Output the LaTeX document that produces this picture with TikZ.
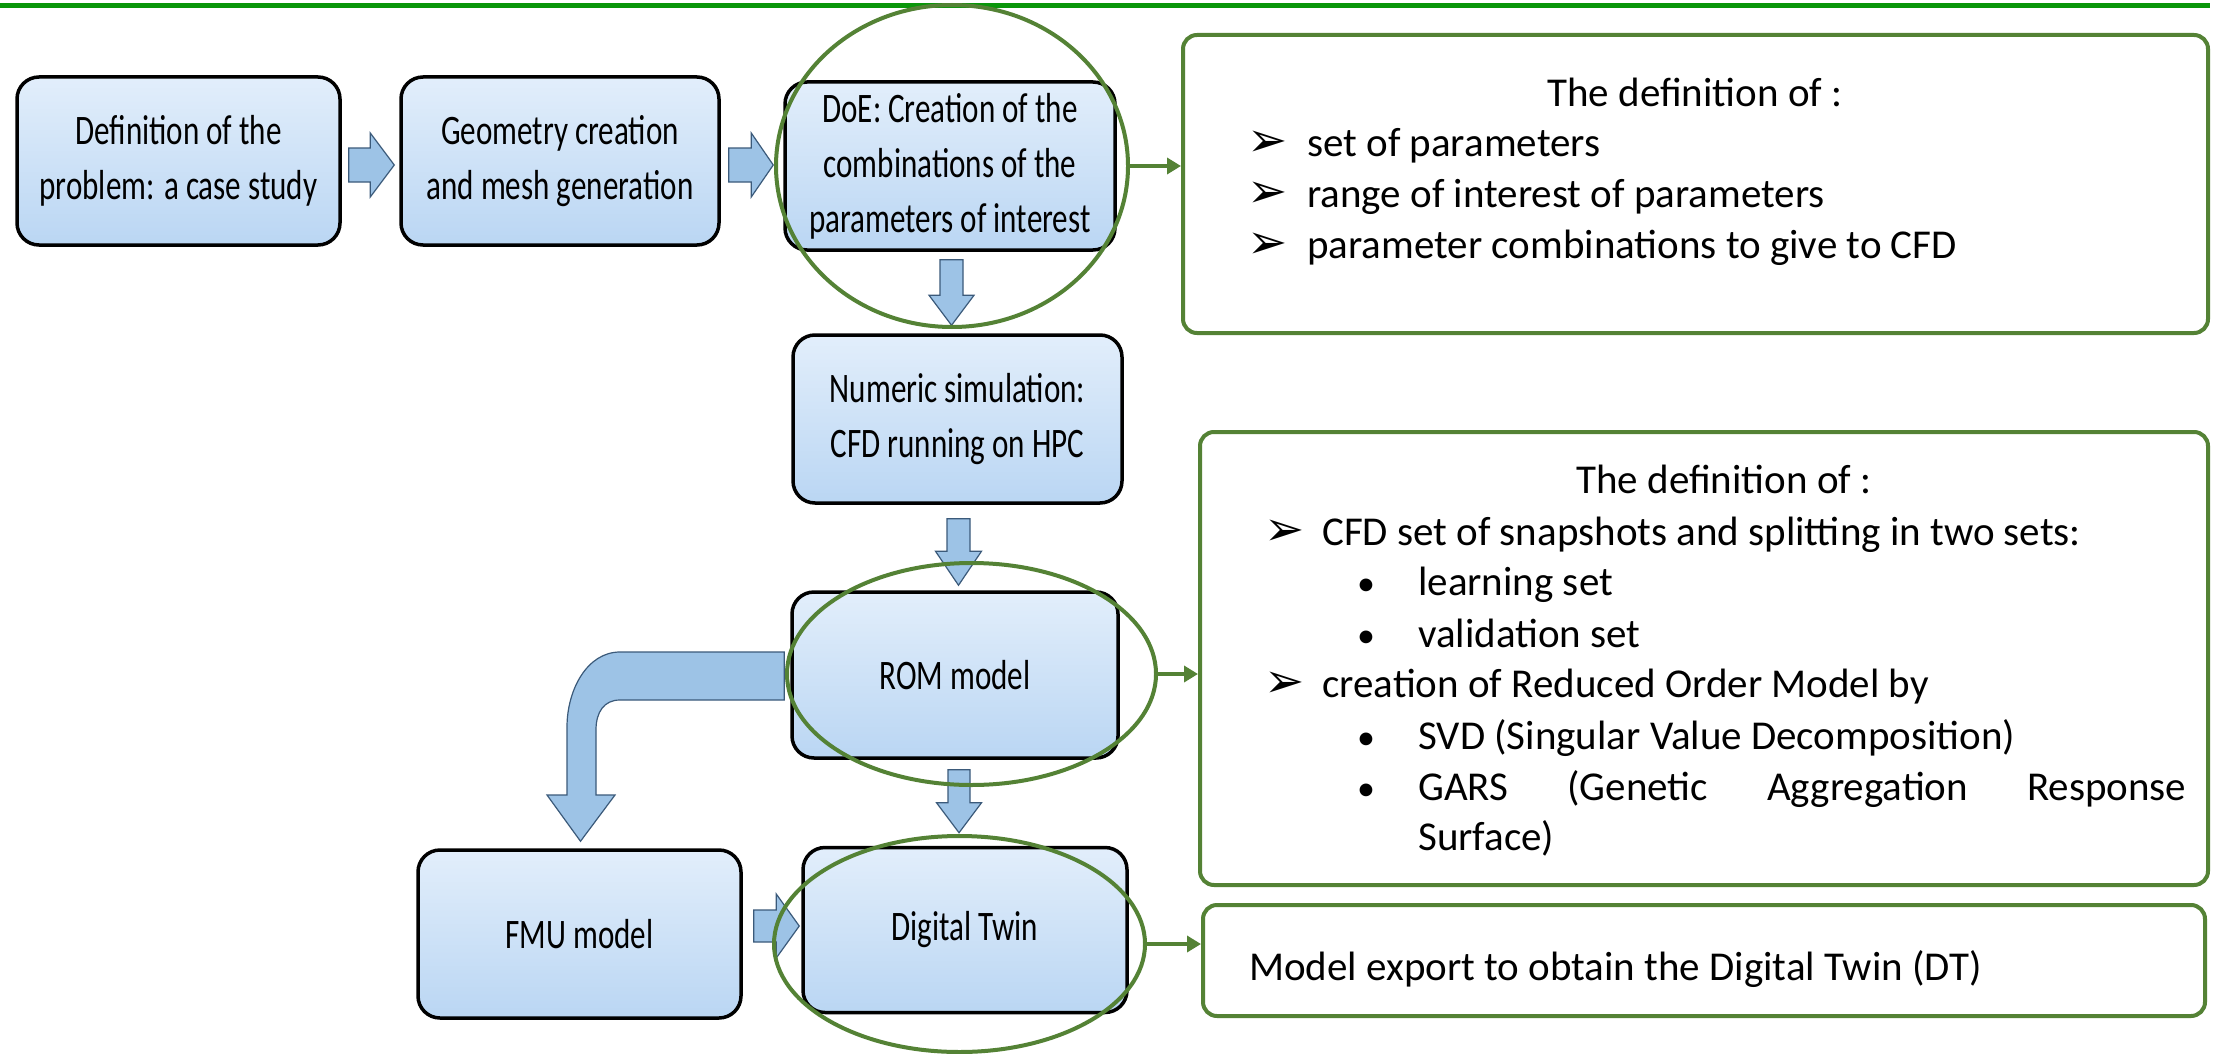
\documentclass[tikz,border=0pt]{standalone}
\usepackage{fontspec}
\setmainfont{Carlito}
\newfontfamily\condf[FakeStretch=0.74]{Carlito}
\newfontfamily\dvs{DejaVu Sans}
\usetikzlibrary{shapes.geometric,calc,arrows.meta}
\definecolor{ogreen}{HTML}{548235}
\definecolor{tgreen}{HTML}{0A960A}
\definecolor{btop}{HTML}{E2EEFB}
\definecolor{bbot}{HTML}{BAD6F3}
\definecolor{afill}{HTML}{9DC3E6}
\definecolor{aline}{HTML}{3B5A7A}
\tikzset{
  flowbox/.style={rectangle, rounded corners=22pt, draw=black, line width=3.5pt,
    top color=btop, bottom color=bbot, align=center, inner sep=0pt,
    font=\condf\fontsize{42}{55}\selectfont},
  focus/.style={ellipse, draw=ogreen, line width=4pt, inner sep=0pt},
  infobox/.style={rectangle, rounded corners=14pt, draw=ogreen, line width=4pt, fill=white, inner sep=0pt},
  infotext/.style={anchor=base west, inner sep=0pt, font=\fontsize{41}{50}\selectfont},
  infotitle/.style={anchor=base, inner sep=0pt, font=\fontsize{41}{50}\selectfont},
  arrowmark/.style={anchor=base west, inner sep=0pt, font=\dvs\fontsize{48}{48}\selectfont},
  dotmark/.style={anchor=base west, inner sep=0pt, font=\fontsize{36}{36}\selectfont},
  gconn/.style={draw=ogreen, line width=4pt, -{Triangle[length=14pt,width=16pt]}},
  blockarrow/.style={fill=afill, draw=aline, line width=1.2pt, line join=miter},
}
% #1 start, #2 tip, #3 shaft half width, #4 head half width, #5 head length
\newcommand\blockarr[5]{%
  \coordinate (ba-h) at ($(#2)!#5!(#1)$);
  \path[blockarrow] ($(#1)!#3!90:(#2)$) -- ($(ba-h)!#3!90:(#2)$) -- ($(ba-h)!#4!90:(#2)$)
    -- (#2) -- ($(ba-h)!#4!-90:(#2)$) -- ($(ba-h)!#3!-90:(#2)$) -- ($(#1)!#3!-90:(#2)$) -- cycle;
}
\begin{document}
\begin{tikzpicture}[x=1pt,y=-1pt]
\path[use as bounding box, fill=white] (0,0) rectangle (2221,1054);

% top rule
\coordinate (tl) at (0,6);
\coordinate (tr) at (2210,6);
\draw[tgreen, line width=5pt] (tl) -- (tr);

% flow boxes
\node[flowbox, minimum width=323pt, minimum height=168pt] (b1) at (178.5,161) {Definition of the\\problem: a case study};
\node[flowbox, minimum width=318pt, minimum height=168pt] (b2) at (560,161) {Geometry creation\\and mesh generation};
\node[flowbox, minimum width=330pt, minimum height=168pt] (b3) at (950,166) {DoE: Creation of the\\combinations of the\\parameters of interest};
\node[flowbox, minimum width=329pt, minimum height=168pt] (b4) at (957.5,419) {Numeric simulation:\\CFD running on HPC};
\node[flowbox, minimum width=326pt, minimum height=166pt] (rom) at (955,675) {ROM model};
\node[flowbox, minimum width=323pt, minimum height=168pt] (fmu) at (579.5,934) {FMU model};
\node[flowbox, minimum width=324pt, minimum height=165pt] (dt) at (965,930) {Digital Twin};

% block arrows
\coordinate (a1s) at ($(b1.east)+(7,4)$);
\coordinate (a1t) at ($(b2.west)+(-5,4)$);
\blockarr{a1s}{a1t}{17pt}{32pt}{24pt}
\coordinate (a2s) at ($(b2.east)+(8,4)$);
\coordinate (a2t) at ($(b3.west)+(-10,-1)$);
\blockarr{a2s}{a2t}{17pt}{32pt}{22pt}
\coordinate (d1s) at ($(b3.south)+(1.5,8)$);
\coordinate (d1t) at ($(b4.north)+(-6,-8)$);
\blockarr{d1s}{d1t}{11.5pt}{22.5pt}{30pt}
\coordinate (d2s) at ($(b4.south)+(1,14)$);
\coordinate (d2t) at ($(rom.north)+(3.5,-5)$);
\blockarr{d2s}{d2t}{11.5pt}{23pt}{34pt}
\coordinate (d3s) at ($(rom.south)+(4,10)$);
\coordinate (d3t) at ($(dt.north)+(-6,-13)$);
\blockarr{d3s}{d3t}{11pt}{22.5pt}{30pt}
\coordinate (a3s) at ($(fmu.east)+(11,-8)$);
\coordinate (a3t) at ($(dt.west)+(-2,-4)$);
\blockarr{a3s}{a3t}{16pt}{32pt}{23pt}

% bent arrow ROM -> FMU
\coordinate (bs) at ($(rom.west)+(-6,0)$);
\coordinate (bt) at ($(fmu.north)+(1,-7)$);
\path[blockarrow] ($(bs)+(0,-23)$) -- (620,652) .. controls (587,652) and (567,690) .. (567,727)
  -- (567,795) -- (547,795) -- (bt) -- (615,795) -- (596,795) -- (596,730)
  .. controls (596,712) and (604,700) .. (620,700) -- ($(bs)+(0,25)$) -- cycle;

% focus ellipses
\node[focus, minimum width=352pt, minimum height=322pt] (e1) at (952,166) {};
\node[focus, minimum width=369pt, minimum height=222pt] (e2) at (971.5,674) {};
\node[focus, minimum width=371pt, minimum height=216pt] (e3) at (959.5,944) {};

% info boxes
\node[infobox, minimum width=1025pt, minimum height=298pt] (r1) at (1695.5,184) {};
\node[infobox, minimum width=1008pt, minimum height=453pt] (r2) at (1704,658.5) {};
\node[infobox, minimum width=1002pt, minimum height=111pt] (r3) at (1704,960.5) {};

\draw[gconn] (e1.east) -- (e1.east -| r1.west);
\draw[gconn] (e2.east) -- (e2.east -| r2.west);
\draw[gconn] (e3.east) -- (e3.east -| r3.west);

% texts of box r1
\node[infotitle] (r1t) at (1695,107) {The definition of :};
\node[arrowmark] (r1m1) at (1247,157) {➢};
\node[infotext] (r1l1) at (1307,157) {set of parameters};
\node[arrowmark] (r1m2) at (1247,207) {➢};
\node[infotext] (r1l2) at (1307,207) {range of interest of parameters};
\node[arrowmark] (r1m3) at (1247,258) {➢};
\node[infotext] (r1l3) at (1307,258) {parameter combinations to give to CFD};

% texts of box r2
\node[infotitle] (r2t) at (1724,493) {The definition of :};
\node[arrowmark] (r2m1) at (1264,545) {➢};
\node[infotext] (r2l1) at (1322,545) {CFD set of snapshots and splitting in two sets:};
\node[dotmark] (r2b1) at (1357,595) {•};
\node[infotext] (r2l2) at (1418,595) {learning set};
\node[dotmark] (r2b2) at (1357,647) {•};
\node[infotext] (r2l3) at (1418,647) {validation set};
\node[arrowmark] (r2m2) at (1264,697) {➢};
\node[infotext] (r2l4) at (1322,697) {creation of Reduced Order Model by};
\node[dotmark] (r2b3) at (1357,749) {•};
\node[infotext] (r2l5) at (1418,749) {SVD (Singular Value Decomposition)};
\node[dotmark] (r2b4) at (1357,800) {•};
\node[infotext] (r2l6) at (1418,800) {\makebox[768pt][s]{GARS (Genetic Aggregation Response}};
\node[infotext] (r2l7) at (1418,850) {Surface)};

% text of box r3
\node[infotext] (r3l1) at (1249,980) {Model export to obtain the Digital Twin (DT)};
\end{tikzpicture}
\end{document}
